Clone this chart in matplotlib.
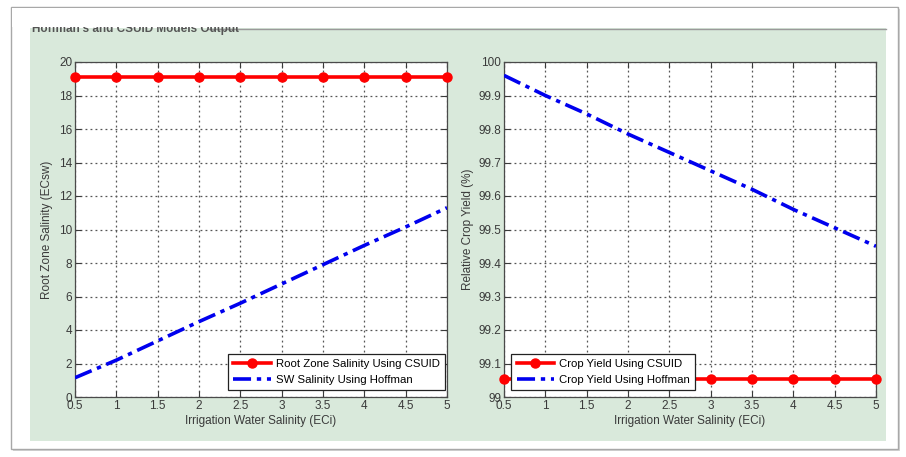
import matplotlib
matplotlib.use("Agg")
import matplotlib.pyplot as plt
from matplotlib.patches import Rectangle
from matplotlib.lines import Line2D

plt.rcParams['font.family'] = ['Liberation Sans', 'DejaVu Sans']

# Irrigation water salinity (ECi)
eci = [0.5, 1.0, 1.5, 2.0, 2.5, 3.0, 3.5, 4.0, 4.5, 5.0]

# Root zone salinity
rz_csuid = [19.1, 19.1, 19.1, 19.1, 19.1, 19.1, 19.1, 19.1, 19.1, 19.1]
sw_hoffman = [1.15, 2.2, 3.35, 4.5, 5.6, 6.75, 7.9, 9.05, 10.15, 11.3]

# Relative crop yield (%)
yield_csuid = [99.053, 99.053, 99.053, 99.053, 99.053, 99.053, 99.053, 99.053, 99.053, 99.053]
yield_hoffman = [99.96, 99.90, 99.845, 99.785, 99.73, 99.675, 99.62, 99.56, 99.505, 99.45]

x_ticks = [0.5, 1, 1.5, 2, 2.5, 3, 3.5, 4, 4.5, 5]
x_ticklabels = ['0.5', '1', '1.5', '2', '2.5', '3', '3.5', '4', '4.5', '5']
left_yticks = [0, 2, 4, 6, 8, 10, 12, 14, 16, 18, 20]
right_yticks = [99.0, 99.1, 99.2, 99.3, 99.4, 99.5, 99.6, 99.7, 99.8, 99.9, 100.0]
right_yticklabels = ['99', '99.1', '99.2', '99.3', '99.4', '99.5', '99.6', '99.7', '99.8', '99.9', '100']

W, H = 906, 457
fig = plt.figure(figsize=(W / 100, H / 100), dpi=100)
fig.patch.set_facecolor('white')


def px_rect(x0, y0, x1, y1, **kw):
    return Rectangle((x0 / W, 1 - y1 / H), (x1 - x0) / W, (y1 - y0) / H,
                     transform=fig.transFigure, **kw)


# outer card with a soft shadow
fig.patches.append(px_rect(13, 9, 900, 451, facecolor='#d4d4d4', edgecolor='none', zorder=-5))
fig.patches.append(px_rect(11, 7, 898, 449, facecolor='white', edgecolor='#a8a8a8', lw=1.0, zorder=-4))
# green panel
fig.patches.append(px_rect(30, 28, 886, 441, facecolor='#d9e9db', edgecolor='none', zorder=-3))
# panel title border line
fig.lines.append(Line2D([208 / W, 886 / W], [1 - 28.5 / H, 1 - 28.5 / H], transform=fig.transFigure,
                        color='#9a9a9a', lw=1.0, zorder=-2))

# panel title, its upper half hidden under the card's top strip
fig.text(32 / W, 1 - 32.0 / H, "Hoffman's and CSUID Models Output", fontsize=8.5,
         fontweight='bold', color='#555555', va='baseline', ha='left', zorder=-1.5)
fig.patches.append(px_rect(12, 8, 897, 26.5, facecolor='white', edgecolor='none', zorder=-1))

ax_bottom_px, ax_top_px = 397, 62
h = (ax_bottom_px - ax_top_px) / H
b = 1 - ax_bottom_px / H
ax1 = fig.add_axes([75 / W, b, 372 / W, h])
ax2 = fig.add_axes([504 / W, b, 372 / W, h])

tick_color = '#3a3a3a'
for ax in (ax1, ax2):
    ax.set_facecolor('white')
    ax.set_xlim(0.5, 5)
    ax.set_xticks(x_ticks)
    ax.set_xticklabels(x_ticklabels)
    ax.grid(True, color='#555555', linestyle=(0, (1.5, 2.5)), lw=0.9)
    ax.tick_params(direction='in', top=True, right=True, length=4, width=0.8,
                   colors=tick_color, labelsize=8.5, pad=2)
    for s in ax.spines.values():
        s.set_color('#4a4a4a')
        s.set_linewidth(0.9)
    ax.set_xlabel('Irrigation Water Salinity (ECi)', fontsize=8.5, color=tick_color, labelpad=2)

legend_kw = dict(fontsize=8.2, frameon=True, fancybox=False, edgecolor='#222222', framealpha=1,
                 handlelength=3.3, borderpad=0.45, labelspacing=0.5, handletextpad=0.45,
                 borderaxespad=0.0)

# left: root zone salinity
ax1.plot(eci, rz_csuid, color='#ff0000', lw=2.6, marker='o', markersize=6.5,
         label='Root Zone Salinity Using CSUID', clip_on=False, zorder=3)
ax1.plot(eci, sw_hoffman, color='#0000ee', lw=2.6, linestyle=(0, (5, 1.6, 1.2, 1.6)),
         label='SW Salinity Using Hoffman', zorder=3)
ax1.set_ylim(0, 20)
ax1.set_yticks(left_yticks)
ax1.set_ylabel('Root Zone Salinity (ECsw)', fontsize=8.5, color=tick_color, labelpad=4)
leg1 = ax1.legend(loc='lower right', bbox_to_anchor=(0.995, 0.02), **legend_kw)
leg1.get_frame().set_linewidth(0.9)

# right: relative crop yield
ax2.plot(eci, yield_csuid, color='#ff0000', lw=2.6, marker='o', markersize=6.5,
         label='Crop Yield Using CSUID', clip_on=False, zorder=3)
ax2.plot(eci, yield_hoffman, color='#0000ee', lw=2.6, linestyle=(0, (5, 1.6, 1.2, 1.6)),
         label='Crop Yield Using Hoffman', zorder=3)
ax2.set_ylim(99.0, 100.0)
ax2.set_yticks(right_yticks)
ax2.set_yticklabels(right_yticklabels)
ax2.set_ylabel('Relative Crop Yield (%)', fontsize=8.5, color=tick_color, labelpad=3)
leg2 = ax2.legend(loc='lower left', bbox_to_anchor=(0.02, 0.02), **legend_kw)
leg2.get_frame().set_linewidth(0.9)
leg2.set_zorder(5)

fig.savefig('out.png', dpi=100, facecolor=fig.get_facecolor())
